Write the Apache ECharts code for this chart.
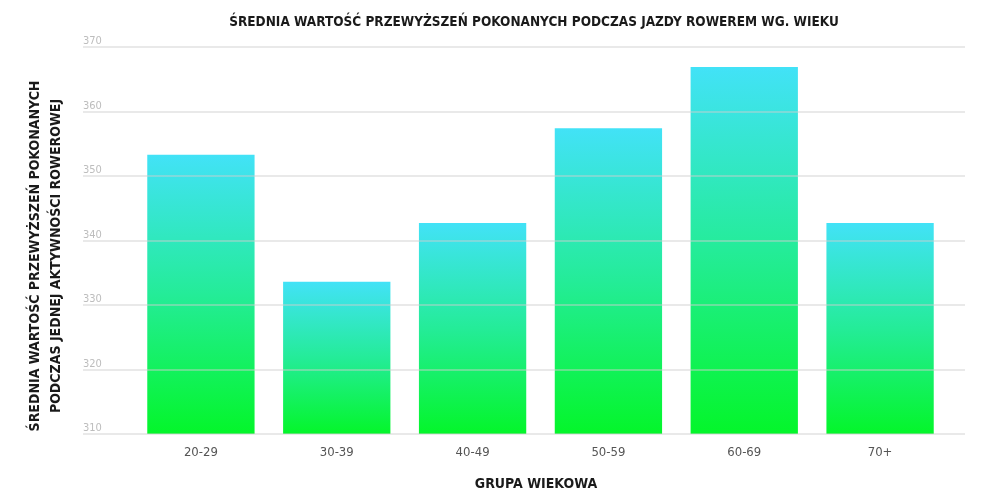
<!DOCTYPE html>
<html>
<head>
<meta charset="utf-8">
<script src="https://cdn.jsdelivr.net/npm/echarts@6/dist/echarts.min.js"></script>
<style>
  html, body { margin: 0; padding: 0; background: #fff; }
  #chart { width: 1000px; height: 500px; }
</style>
</head>
<body>
<div id="chart"></div>
<script>
// dane
const ageGroups = ['20-29', '30-39', '40-49', '50-59', '60-69', '70+']
const avgElevation = [353.3, 333.6, 342.7, 357.4, 366.9, 342.7]
const yMin = 310
const yMax = 370
const yStep = 10

const FONT = '"DejaVu Sans Condensed", "Liberation Sans Narrow", "DejaVu Sans", sans-serif'

const chart = echarts.init(document.getElementById('chart'))
chart.setOption({
  animation: false,
  title: [
    {
      text: 'ŚREDNIA WARTOŚĆ PRZEWYŻSZEŃ POKONANYCH PODCZAS JAZDY ROWEREM WG. WIEKU',
      left: 529,
      top: 10,
      textAlign: 'center',
      textStyle: { fontFamily: FONT, fontWeight: 'bold', fontSize: 13.5, color: '#1a1a1a' },
    },
    {
      text: 'GRUPA WIEKOWA',
      left: 531,
      top: 472,
      textAlign: 'center',
      textStyle: { fontFamily: FONT, fontWeight: 'bold', fontSize: 14, color: '#1a1a1a' },
    },
  ],
  // opis osi Y (dwie linie, obrócony)
  graphic: [
    {
      type: 'text',
      x: 46,
      y: 256,
      rotation: Math.PI / 2,
      style: {
        text: 'ŚREDNIA WARTOŚĆ PRZEWYŻSZEŃ POKONANYCH\nPODCZAS JEDNEJ AKTYWNOŚCI ROWEROWEJ',
        align: 'center',
        verticalAlign: 'middle',
        font: 'bold 14px ' + FONT,
        lineHeight: 21,
        fill: '#1a1a1a',
      },
    },
  ],
  // grid 0: linie siatki + etykiety osi Y, grid 1: słupki
  grid: [
    { left: 83, right: 35, top: 47, bottom: 66 },
    { left: 133, right: 52, top: 47, bottom: 66 },
  ],
  xAxis: [
    { gridIndex: 0, type: 'category', data: ageGroups, show: false },
    {
      gridIndex: 1,
      type: 'category',
      data: ageGroups,
      axisLine: { show: false },
      axisTick: { show: false },
      axisLabel: { margin: 12, color: '#555', fontFamily: FONT, fontSize: 13 },
    },
  ],
  yAxis: [
    {
      gridIndex: 0,
      type: 'value',
      min: yMin,
      max: yMax,
      interval: yStep,
      z: 5,
      axisLine: { show: false },
      axisTick: { show: false },
      axisLabel: {
        inside: true,
        verticalAlign: 'bottom',
        align: 'left',
        margin: 0,
        color: '#bdbdbd',
        fontFamily: FONT,
        fontSize: 11,
      },
      splitLine: { lineStyle: { color: 'rgba(205,205,205,0.6)', width: 1.5 } },
    },
    { gridIndex: 1, type: 'value', min: yMin, max: yMax, interval: yStep, show: false },
  ],
  series: [
    {
      type: 'bar',
      xAxisIndex: 1,
      yAxisIndex: 1,
      data: avgElevation,
      barCategoryGap: '21%',
      itemStyle: {
        color: new echarts.graphic.LinearGradient(0, 0, 0, 1, [
          { offset: 0, color: '#42e2f7' },
          { offset: 0.5, color: '#24ec98' },
          { offset: 1, color: '#04f62a' },
        ]),
      },
    },
  ],
})
</script>
</body>
</html>
